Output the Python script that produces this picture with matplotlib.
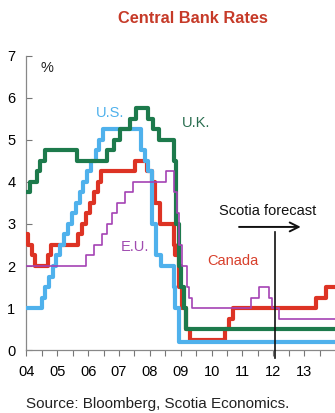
import matplotlib
matplotlib.use("Agg")
import matplotlib.pyplot as plt

plt.rcParams['font.family'] = ['Liberation Sans', 'DejaVu Sans']

# policy rate step series: (decimal year, rate %)
us_dates = [2004.0, 2004.49, 2004.61, 2004.72, 2004.86, 2004.95, 2005.09, 2005.22,
            2005.34, 2005.49, 2005.61, 2005.72, 2005.83, 2005.95, 2006.08, 2006.24,
            2006.36, 2006.49, 2007.72, 2007.83, 2007.94, 2008.06, 2008.08, 2008.21,
            2008.35, 2008.77, 2008.82, 2008.96, 2014.0]
us_rates = [1.0, 1.25, 1.5, 1.75, 2.0, 2.25, 2.5, 2.75,
            3.0, 3.25, 3.5, 3.75, 4.0, 4.25, 4.5, 4.75,
            5.0, 5.25, 4.75, 4.5, 4.25, 3.5, 3.0, 2.25,
            2.0, 1.5, 1.0, 0.2, 0.2]

uk_dates = [2004.0, 2004.10, 2004.35, 2004.44, 2004.6, 2005.65, 2006.62, 2006.85,
            2007.03, 2007.35, 2007.55, 2007.95, 2008.1, 2008.3, 2008.78, 2008.85,
            2008.93, 2009.02, 2009.1, 2009.18, 2014.0]
uk_rates = [3.75, 4.0, 4.25, 4.5, 4.75, 4.5, 4.75, 5.0,
            5.25, 5.5, 5.75, 5.5, 5.25, 5.0, 4.5, 3.0,
            2.0, 1.5, 1.0, 0.5, 0.5]

ca_dates = [2004.0, 2004.05, 2004.17, 2004.28, 2004.69, 2004.8, 2005.68, 2005.79,
            2005.93, 2006.06, 2006.18, 2006.31, 2006.42, 2007.52, 2007.92, 2008.06,
            2008.17, 2008.32, 2008.77, 2008.8, 2008.94, 2009.05, 2009.17, 2009.3,
            2010.42, 2010.55, 2010.69, 2013.4, 2013.72, 2014.0]
ca_rates = [2.75, 2.5, 2.25, 2.0, 2.25, 2.5, 2.75, 3.0,
            3.25, 3.5, 3.75, 4.0, 4.25, 4.5, 4.25, 4.0,
            3.5, 3.0, 2.5, 2.25, 1.5, 1.0, 0.5, 0.25,
            0.5, 0.75, 1.0, 1.25, 1.5, 1.5]

eu_dates = [2004.0, 2005.93, 2006.18, 2006.45, 2006.61, 2006.78, 2006.95, 2007.2,
            2007.45, 2008.52, 2008.79, 2008.87, 2008.94, 2009.05, 2009.19, 2009.27,
            2009.36, 2011.28, 2011.53, 2011.86, 2011.95, 2012.2, 2014.0]
eu_rates = [2.0, 2.25, 2.5, 2.75, 3.0, 3.25, 3.5, 3.75,
            4.0, 4.25, 3.75, 3.25, 2.5, 2.0, 1.5, 1.25,
            1.0, 1.25, 1.5, 1.25, 1.0, 0.75, 0.75]

years = list(range(2004, 2014))
year_labels = ["04", "05", "06", "07", "08", "09", "10", "11", "12", "13"]
forecast_start = 2012.05

fig = plt.figure(figsize=(3.35, 4.13), dpi=100)
ax = fig.add_axes([0.079, 0.1525, 0.921, 0.712])

ax.plot(ca_dates, ca_rates, drawstyle='steps-post', color='#dd3324', lw=3.0, zorder=3)
ax.plot(us_dates, us_rates, drawstyle='steps-post', color='#4fb1ec', lw=3.0, zorder=4)
ax.plot(uk_dates, uk_rates, drawstyle='steps-post', color='#1d7a4c', lw=3.0, zorder=5)
ax.plot(eu_dates, eu_rates, drawstyle='steps-post', color='#a442b4', lw=1.2, zorder=6)

ax.set_xlim(2004, 2014)
ax.set_ylim(0, 7)

ax.set_xticks(years)
ax.set_xticklabels(year_labels)
ax.set_xticks([y + 0.5 for y in years], minor=True)
ax.tick_params(axis='x', which='both', direction='out', length=4, width=0.8,
               color='#777777', pad=7, labelsize=10.5)
ax.set_yticks(range(0, 8))
ax.tick_params(axis='y', direction='in', length=4, width=0.8, color='#777777',
               pad=8, labelsize=10.5)

for side in ['top', 'right']:
    ax.spines[side].set_visible(False)
for side in ['left', 'bottom']:
    ax.spines[side].set_color('#888888')
    ax.spines[side].set_linewidth(0.9)

# series labels
ax.text(2006.7, 5.64, "U.S.", color='#4fb1ec', fontsize=10.5, ha='center', va='center')
ax.text(2009.5, 5.4, "U.K.", color='#2a6e50', fontsize=10.5, ha='center', va='center')
ax.text(2007.51, 2.45, "E.U.", color='#a04cb0', fontsize=10.5, ha='center', va='center')
ax.text(2010.69, 2.12, "Canada", color='#d8402c', fontsize=10.5, ha='center', va='center')
ax.text(2004.66, 6.71, "%", color='#222222', fontsize=10.5, ha='center', va='center')

# forecast marker
ax.plot([forecast_start, forecast_start], [-0.2, 2.8], color='#111111', lw=1.2,
        clip_on=False, zorder=7)
ax.annotate("", xy=(2012.98, 2.93), xytext=(2010.8, 2.93),
            arrowprops=dict(arrowstyle='->', color='#111111', lw=1.4,
                            mutation_scale=16))
ax.text(2011.83, 3.3, "Scotia forecast", color='#111111', fontsize=10.5,
        ha='center', va='center')

fig.text(0.576, 0.954, "Central Bank Rates", color='#c63a28', fontsize=11.8,
         fontweight='bold', ha='center', va='center',
         family=['Liberation Sans Narrow', 'Liberation Sans'])
fig.text(0.078, 0.022, "Source: Bloomberg, Scotia Economics.", color='#222222',
         fontsize=11, ha='left', va='center')

fig.savefig("out.png", dpi=100)
